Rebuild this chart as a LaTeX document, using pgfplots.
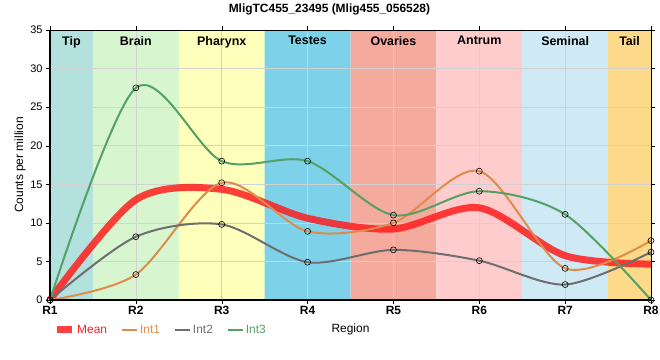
\documentclass[border=0pt]{standalone}
\usepackage{pgfplots}
\pgfplotsset{compat=1.18}
\usepackage{fontspec}
\setmainfont{Liberation Sans}
\definecolor{cTip}{RGB}{179,225,221}
\definecolor{cBrain}{RGB}{215,245,207}
\definecolor{cPhar}{RGB}{255,255,188}
\definecolor{cTest}{RGB}{125,210,234}
\definecolor{cOva}{RGB}{245,170,158}
\definecolor{cAnt}{RGB}{255,204,206}
\definecolor{cSem}{RGB}{207,234,245}
\definecolor{cTail}{RGB}{253,218,138}
\definecolor{cMean}{RGB}{255,30,30}
\definecolor{cInt1}{RGB}{222,140,75}
\definecolor{cInt2}{RGB}{110,110,110}
\definecolor{cInt3}{RGB}{85,160,100}
\tikzset{bandlbl/.style={anchor=north, font=\fontsize{12.5}{14}\selectfont\bfseries, inner sep=0pt, yshift=-6bp}}
\begin{document}
\begin{tikzpicture}
\begin{axis}[
  set layers,
  at={(0,0)}, anchor=origin,
  scale only axis, width=601bp, height=270bp,
  xmin=0, xmax=7, ymin=0, ymax=35,
  xtick={0,...,7},
  xticklabels={R1,R2,R3,R4,R5,R6,R7,R8},
  xticklabel style={font=\fontsize{12}{14}\selectfont\bfseries, yshift=1bp},
  ytick={0,5,...,35},
  yticklabel style={font=\fontsize{11}{13}\selectfont},
  /pgf/number format/assume math mode=true,
  tick align=outside, tick style={black, thin}, major tick length=4bp,
  grid=major, grid style={gray!35, line width=0.6bp},
  axis line style={black, line width=0.7bp},
  ylabel={Counts per million},
  ylabel style={font=\fontsize{12}{14}\selectfont, at={(axis description cs:-0.05,0.5)}, anchor=center},
  xlabel={Region},
  xlabel style={font=\fontsize{12}{14}\selectfont, at={(axis description cs:0.5,-0.11)}, anchor=center},
  legend style={draw=none, fill=none, at={(axis description cs:0.0,-0.11)}, anchor=west, legend columns=-1,
    font=\fontsize{12}{14}\selectfont, /tikz/every even column/.append style={column sep=12bp}},
  legend cell align=left,
  legend image code/.code={\draw[#1, mark=none] (0bp,0bp) -- (15bp,0bp);},
  clip=false,
]
\addplot[on layer=axis background, fill=cTip, draw=none, forget plot] coordinates {(0,0) (0,35) (0.5,35) (0.5,0)} \closedcycle;
\addplot[on layer=axis background, fill=cBrain, draw=none, forget plot] coordinates {(0.5,0) (0.5,35) (1.5,35) (1.5,0)} \closedcycle;
\addplot[on layer=axis background, fill=cPhar, draw=none, forget plot] coordinates {(1.5,0) (1.5,35) (2.5,35) (2.5,0)} \closedcycle;
\addplot[on layer=axis background, fill=cTest, draw=none, forget plot] coordinates {(2.5,0) (2.5,35) (3.5,35) (3.5,0)} \closedcycle;
\addplot[on layer=axis background, fill=cOva, draw=none, forget plot] coordinates {(3.5,0) (3.5,35) (4.5,35) (4.5,0)} \closedcycle;
\addplot[on layer=axis background, fill=cAnt, draw=none, forget plot] coordinates {(4.5,0) (4.5,35) (5.5,35) (5.5,0)} \closedcycle;
\addplot[on layer=axis background, fill=cSem, draw=none, forget plot] coordinates {(5.5,0) (5.5,35) (6.5,35) (6.5,0)} \closedcycle;
\addplot[on layer=axis background, fill=cTail, draw=none, forget plot] coordinates {(6.5,0) (6.5,35) (7,35) (7,0)} \closedcycle;
\addplot[cMean, opacity=0.85, line width=7bp, smooth, tension=0.5, no markers] coordinates {
(0,0) (1,13.0) (2,14.35) (3,10.6) (4,9.2) (5,11.95) (6,5.75) (7,4.65)};
\addlegendentry{\textcolor{cMean}{Mean}}
\addplot[cInt1, line width=2bp, smooth, tension=0.5, mark=o, mark size=3bp, mark options={black, line width=0.6bp, fill=none}] coordinates {
(0,0) (1,3.3) (2,15.2) (3,8.9) (4,10.0) (5,16.7) (6,4.1) (7,7.7)};
\addlegendentry{\textcolor{cInt1}{Int1}}
\addplot[cInt2, line width=2bp, smooth, tension=0.5, mark=o, mark size=3bp, mark options={black, line width=0.6bp, fill=none}] coordinates {
(0,0) (1,8.2) (2,9.8) (3,4.9) (4,6.5) (5,5.1) (6,2.0) (7,6.2)};
\addlegendentry{\textcolor{cInt2}{Int2}}
\addplot[cInt3, line width=2bp, smooth, tension=0.5, mark=o, mark size=3bp, mark options={black, line width=0.6bp, fill=none}] coordinates {
(0,0) (1,27.5) (2,18.0) (3,18.0) (4,11.0) (5,14.1) (6,11.1) (7,0)};
\addlegendentry{\textcolor{cInt3}{Int3}}
\draw[black, line width=2bp] (axis cs:0,35) -- (axis cs:0,0) -- (axis cs:7,0);
\node[bandlbl] at (axis cs:0.25,35) {Tip};
\node[bandlbl] at (axis cs:1,35) {Brain};
\node[bandlbl] at (axis cs:2,35) {Pharynx};
\node[bandlbl] at (axis cs:3,35) {Testes};
\node[bandlbl] at (axis cs:4,35) {Ovaries};
\node[bandlbl] at (axis cs:5,35) {Antrum};
\node[bandlbl] at (axis cs:6,35) {Seminal};
\node[bandlbl] at (axis cs:6.75,35) {Tail};
\node[font=\fontsize{12}{14}\selectfont\bfseries, anchor=center, yshift=21bp] at (axis description cs:0.465,1) {MligTC455\_23495 (Mlig455\_056528)};
\end{axis}
\pgfresetboundingbox
\useasboundingbox (-50bp,-60bp) rectangle (610bp,300bp);
\end{tikzpicture}
\end{document}
